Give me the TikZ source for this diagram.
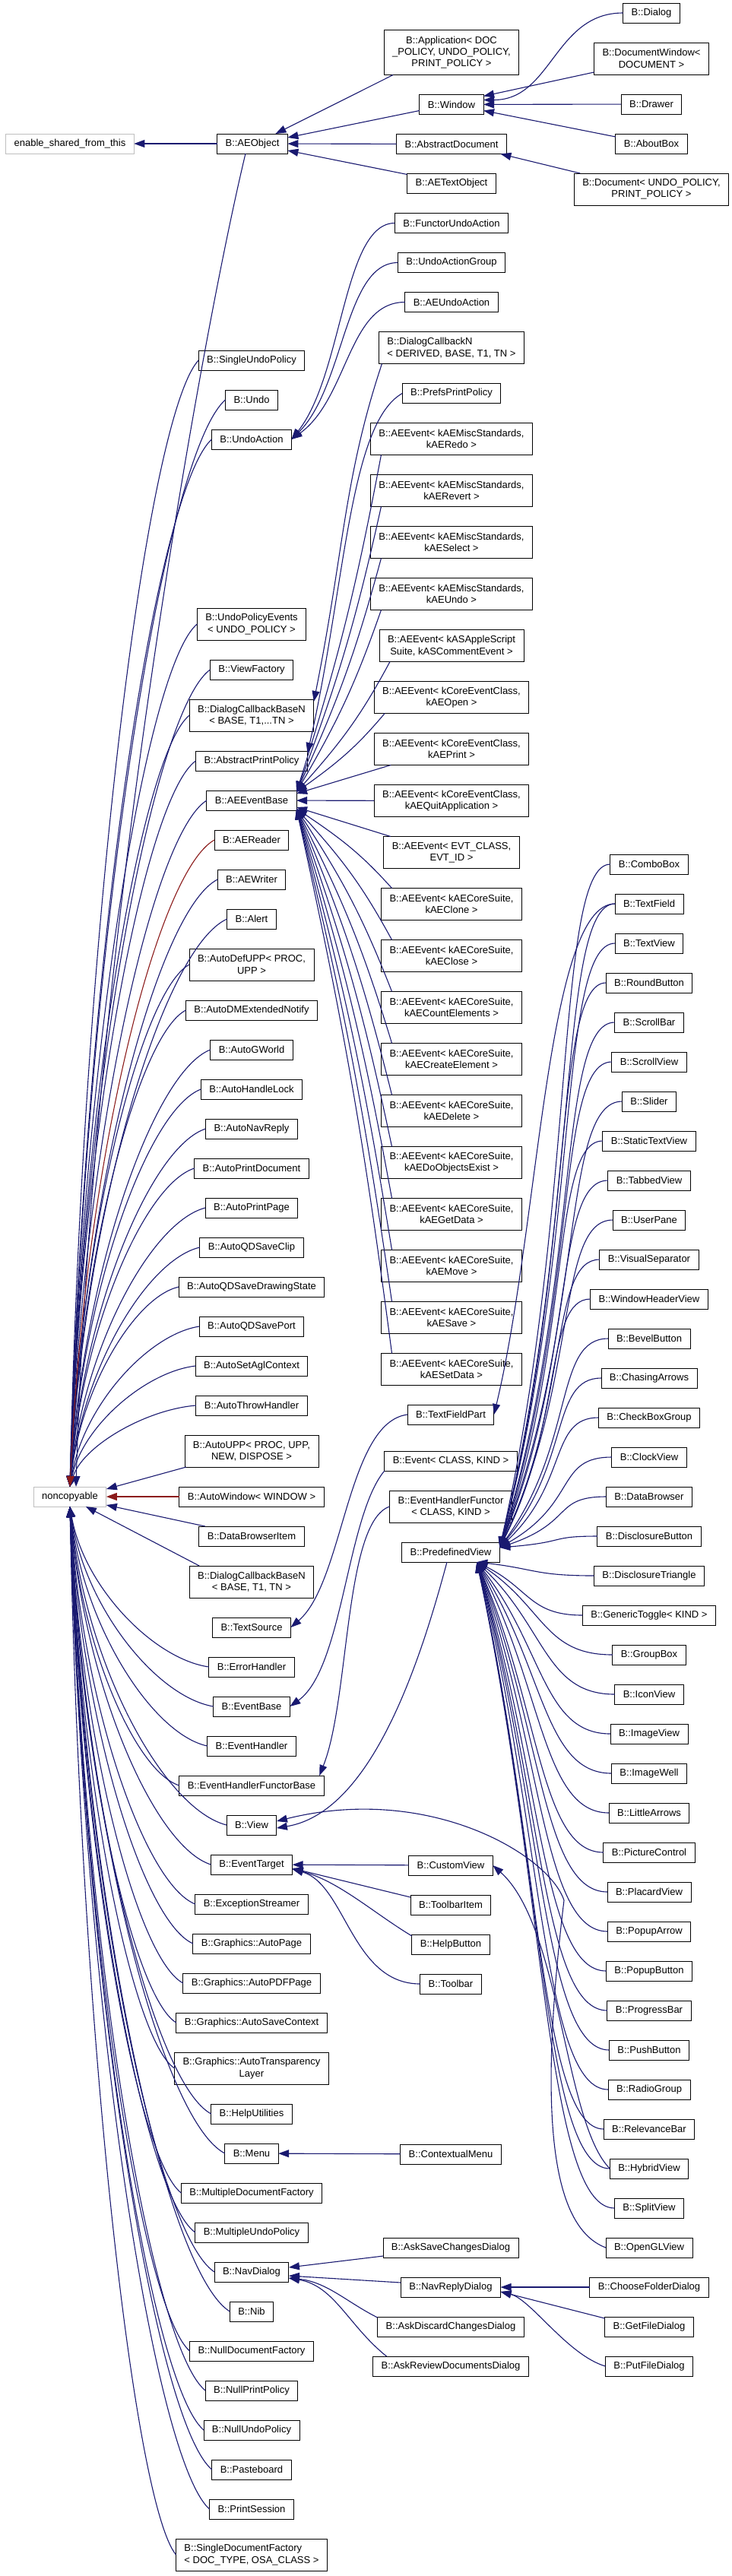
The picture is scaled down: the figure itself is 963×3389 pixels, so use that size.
\documentclass[tikz,border=0pt]{standalone}
\usepackage{fontspec}
\setmainfont{Liberation Sans}
\usetikzlibrary{arrows.meta, positioning, calc}
\definecolor{navy}{HTML}{191970}
\definecolor{privred}{HTML}{8B1A1A}
\definecolor{extgray}{HTML}{BFBFBF}

\begin{document}
\begin{tikzpicture}[
  x=1pt, y=1pt,
  cls/.style={rectangle, draw, line width=0.9pt, fill=white, minimum height=26pt,
    inner xsep=11pt, inner ysep=2pt, outer sep=0pt, align=center,
    font=\fontsize{13}{15.4}\selectfont},
  two/.style={cls, minimum height=42pt},
  three/.style={cls, minimum height=59pt},
  ext/.style={cls, draw=extgray},
  inh/.style={navy, line width=1.1pt, {Triangle[length=14pt, width=10pt]}-},
  prv/.style={inh, privred},
  % spline whose handles are fractions of the run and rise
  bz/.style n args={4}{to path={let \p1=(\tikztostart), \p2=(\tikztotarget) in
    .. controls ({\x1+#1*(\x2-\x1)},{\y1+#2*(\y2-(\y1))})
    and ({\x2-#3*(\x2-\x1)},{\y2-#4*(\y2-(\y1))}) .. (\tikztotarget)}},
  node distance=26pt
]
\useasboundingbox (0,0) rectangle (963,-3389);

% external bases
\node[ext] (esft) at (92,-189) {enable\_shared\_from\_this};
\node[ext] (nc) at (92,-1969) {noncopyable};
\node[cls] (aeo) at (332,-189) {B::AEObject};

% left column
\node[cls] (sup) at (331,-474) {B::SingleUndoPolicy};
\node[cls, below=of sup] (undo) {B::Undo};
\node[cls, below=of undo] (uact) {B::UndoAction};
\node[two] (upe) at (331,-821) {B::UndoPolicyEvents\\< UNDO\_POLICY >};
\node[cls, below=of upe] (vf) {B::ViewFactory};
\node[two, below=of vf] (dcbn) {B::DialogCallbackBaseN\\< BASE, T1,...TN >};
\node[cls, below=of dcbn] (aprp) {B::AbstractPrintPolicy};
\node[cls, below=of aprp] (aeeb) {B::AEEventBase};
\node[cls, below=of aeeb] (aerd) {B::AEReader};
\node[cls, below=of aerd] (aewr) {B::AEWriter};
\node[cls, below=of aewr] (alert) {B::Alert};
\node[two, below=of alert] (adefupp) {B::AutoDefUPP< PROC,\\UPP >};
\node[cls, below=of adefupp] (admen) {B::AutoDMExtendedNotify};
\node[cls, below=of admen] (agw) {B::AutoGWorld};
\node[cls, below=of agw] (ahl) {B::AutoHandleLock};
\node[cls, below=of ahl] (anr) {B::AutoNavReply};
\node[cls, below=of anr] (apd) {B::AutoPrintDocument};
\node[cls, below=of apd] (apg) {B::AutoPrintPage};
\node[cls, below=of apg] (aqdsc) {B::AutoQDSaveClip};
\node[cls, below=of aqdsc] (aqdsds) {B::AutoQDSaveDrawingState};
\node[cls, below=of aqdsds] (aqdsp) {B::AutoQDSavePort};
\node[cls, below=of aqdsp] (asac) {B::AutoSetAglContext};
\node[cls, below=of asac] (ath) {B::AutoThrowHandler};
\node[two, below=of ath] (aupp) {B::AutoUPP< PROC, UPP,\\NEW, DISPOSE >};
\node[cls, below=of aupp] (awin) {B::AutoWindow< WINDOW >};
\node[cls, below=of awin] (dbi) {B::DataBrowserItem};
\node[two, below=of dbi] (dcbn2) {B::DialogCallbackBaseN\\< BASE, T1, TN >};
\node[cls, below=of dcbn2] (tsrc) {B::TextSource};
\node[cls, below=of tsrc] (errh) {B::ErrorHandler};
\node[cls, below=of errh] (evb) {B::EventBase};
\node[cls, below=of evb] (evh) {B::EventHandler};
\node[cls, below=of evh] (ehfb) {B::EventHandlerFunctorBase};
\node[cls, below=of ehfb] (view) {B::View};
\node[cls, below=of view] (et) {B::EventTarget};
\node[cls, below=of et] (exs) {B::ExceptionStreamer};
\node[cls, below=of exs] (gap) {B::Graphics::AutoPage};
\node[cls, below=of gap] (gpdf) {B::Graphics::AutoPDFPage};
\node[cls, below=of gpdf] (gsc) {B::Graphics::AutoSaveContext};
\node[two, below=of gsc] (gtl) {B::Graphics::AutoTransparency\\Layer};
\node[cls, below=of gtl] (hutil) {B::HelpUtilities};
\node[cls, below=of hutil] (menu) {B::Menu};
\node[cls, below=of menu] (mdf) {B::MultipleDocumentFactory};
\node[cls, below=of mdf] (mup) {B::MultipleUndoPolicy};
\node[cls, below=of mup] (nd) {B::NavDialog};
\node[cls, below=of nd] (nib) {B::Nib};
\node[cls, below=of nib] (ndf) {B::NullDocumentFactory};
\node[cls, below=of ndf] (npp) {B::NullPrintPolicy};
\node[cls, below=of npp] (nup) {B::NullUndoPolicy};
\node[cls, below=of nup] (pboard) {B::Pasteboard};
\node[cls, below=of pboard] (psess) {B::PrintSession};
\node[two, align=left, below=of psess] (sdf) {B::SingleDocumentFactory\\< DOC\_TYPE, OSA\_CLASS >};

% middle column
\node[three] (appl) at (594,-69) {B::Application< DOC\\\_POLICY, UNDO\_POLICY,\\PRINT\_POLICY >};
\node[cls, below=of appl] (win) {B::Window};
\node[cls, below=of win] (adoc) {B::AbstractDocument};
\node[cls, below=of adoc] (aetxt) {B::AETextObject};
\node[cls, below=of aetxt] (fua) {B::FunctorUndoAction};
\node[cls, below=of fua] (uag) {B::UndoActionGroup};
\node[cls, below=of uag] (aeua) {B::AEUndoAction};
\node[two, align=left, below=of aeua] (dcn) {B::DialogCallbackN\\< DERIVED, BASE, T1, TN >};
\node[cls, below=of dcn] (ppp) {B::PrefsPrintPolicy};
\node[two, below=of ppp] (ev1) {B::AEEvent< kAEMiscStandards,\\kAERedo >};
\node[two, below=of ev1] (ev2) {B::AEEvent< kAEMiscStandards,\\kAERevert >};
\node[two, below=of ev2] (ev3) {B::AEEvent< kAEMiscStandards,\\kAESelect >};
\node[two, below=of ev3] (ev4) {B::AEEvent< kAEMiscStandards,\\kAEUndo >};
\node[two, below=of ev4] (evas) {B::AEEvent< kASAppleScript\\Suite, kASCommentEvent >};
\node[two, below=of evas] (evop) {B::AEEvent< kCoreEventClass,\\kAEOpen >};
\node[two, below=of evop] (evpr) {B::AEEvent< kCoreEventClass,\\kAEPrint >};
\node[two, below=of evpr] (evqa) {B::AEEvent< kCoreEventClass,\\kAEQuitApplication >};
\node[two, below=of evqa] (evid) {B::AEEvent< EVT\_CLASS,\\EVT\_ID >};
\node[two, below=of evid] (evcl) {B::AEEvent< kAECoreSuite,\\kAEClone >};
\node[two, below=of evcl] (evcs) {B::AEEvent< kAECoreSuite,\\kAEClose >};
\node[two, below=of evcs] (evce) {B::AEEvent< kAECoreSuite,\\kAECountElements >};
\node[two, below=of evce] (evcr) {B::AEEvent< kAECoreSuite,\\kAECreateElement >};
\node[two, below=of evcr] (evdl) {B::AEEvent< kAECoreSuite,\\kAEDelete >};
\node[two, below=of evdl] (evdo) {B::AEEvent< kAECoreSuite,\\kAEDoObjectsExist >};
\node[two, below=of evdo] (evgd) {B::AEEvent< kAECoreSuite,\\kAEGetData >};
\node[two, below=of evgd] (evmv) {B::AEEvent< kAECoreSuite,\\kAEMove >};
\node[two, below=of evmv] (evsv) {B::AEEvent< kAECoreSuite,\\kAESave >};
\node[two, below=of evsv] (evsd) {B::AEEvent< kAECoreSuite,\\kAESetData >};
\node[cls] (tfp) at (593,-1861) {B::TextFieldPart};
\node[cls] (evck) at (593,-1922) {B::Event< CLASS, KIND >};
\node[two, below=of evck] (ehf) {B::EventHandlerFunctor\\< CLASS, KIND >};
\node[cls, below=of ehf] (pv) {B::PredefinedView};
\node[cls] (cv) at (593,-2454) {B::CustomView};
\node[cls, below=of cv] (tbi) {B::ToolbarItem};
\node[cls, below=of tbi] (hbtn) {B::HelpButton};
\node[cls, below=of hbtn] (tbar) {B::Toolbar};
\node[cls] (cmenu) at (593,-2834) {B::ContextualMenu};
\node[cls] (ascd) at (593,-2957) {B::AskSaveChangesDialog};
\node[cls, below=of ascd] (nrd) {B::NavReplyDialog};
\node[cls, below=of nrd] (adcd) {B::AskDiscardChangesDialog};
\node[cls, below=of adcd] (ardd) {B::AskReviewDocumentsDialog};

% right column
\node[cls] (dlg) at (857,-17) {B::Dialog};
\node[two, below=of dlg] (dwin) {B::DocumentWindow<\\DOCUMENT >};
\node[cls, below=of dwin] (drw) {B::Drawer};
\node[cls, below=of drw] (abox) {B::AboutBox};
\node[two, below=of abox] (doc) {B::Document< UNDO\_POLICY,\\PRINT\_POLICY >};
\node[cls] (combo) at (854,-1137) {B::ComboBox};
\node[cls, below=of combo] (tfield) {B::TextField};
\node[cls, below=of tfield] (tview) {B::TextView};
\node[cls, below=of tview] (rbtn) {B::RoundButton};
\node[cls, below=of rbtn] (sbar) {B::ScrollBar};
\node[cls, below=of sbar] (sview) {B::ScrollView};
\node[cls, below=of sview] (slider) {B::Slider};
\node[cls, below=of slider] (stv) {B::StaticTextView};
\node[cls, below=of stv] (tabv) {B::TabbedView};
\node[cls, below=of tabv] (upane) {B::UserPane};
\node[cls, below=of upane] (vsep) {B::VisualSeparator};
\node[cls, below=of vsep] (whv) {B::WindowHeaderView};
\node[cls, below=of whv] (bevel) {B::BevelButton};
\node[cls, below=of bevel] (chase) {B::ChasingArrows};
\node[cls, below=of chase] (cbg) {B::CheckBoxGroup};
\node[cls, below=of cbg] (clock) {B::ClockView};
\node[cls, below=of clock] (dbrowser) {B::DataBrowser};
\node[cls, below=of dbrowser] (dbtn) {B::DisclosureButton};
\node[cls, below=of dbtn] (dtri) {B::DisclosureTriangle};
\node[cls, below=of dtri] (gtog) {B::GenericToggle< KIND >};
\node[cls, below=of gtog] (gbox) {B::GroupBox};
\node[cls, below=of gbox] (icon) {B::IconView};
\node[cls, below=of icon] (imgv) {B::ImageView};
\node[cls, below=of imgv] (imgw) {B::ImageWell};
\node[cls, below=of imgw] (larrows) {B::LittleArrows};
\node[cls, below=of larrows] (pctl) {B::PictureControl};
\node[cls, below=of pctl] (placard) {B::PlacardView};
\node[cls, below=of placard] (parrow) {B::PopupArrow};
\node[cls, below=of parrow] (pbtn) {B::PopupButton};
\node[cls, below=of pbtn] (pbar) {B::ProgressBar};
\node[cls, below=of pbar] (pushb) {B::PushButton};
\node[cls, below=of pushb] (radio) {B::RadioGroup};
\node[cls, below=of radio] (relev) {B::RelevanceBar};
\node[cls, below=of relev] (hybrid) {B::HybridView};
\node[cls, below=of hybrid] (split) {B::SplitView};
\node[cls, below=of split] (ogl) {B::OpenGLView};
\node[cls, below=of ogl] (cfd) {B::ChooseFolderDialog};
\node[cls, below=of cfd] (gfd) {B::GetFileDialog};
\node[cls, below=of gfd] (pfd) {B::PutFileDialog};

% top of the tree
\draw[inh] (esft) -- (aeo);
\draw[inh] ([xshift=-16pt]aeo.north east) -- ([xshift=12pt]appl.south west);
\draw[inh] ([yshift=8pt]aeo.east) -- ([yshift=-8pt]win.west);
\draw[inh] (aeo) -- (adoc);
\draw[inh] ([yshift=-9pt]aeo.east) -- ([yshift=-1pt]aetxt.north west);
\draw[inh] ([yshift=6pt]win.east) .. controls +(90,0) and +(-90,0) .. (dlg.west);
\draw[inh] ([yshift=-2pt]win.north east) -- ([yshift=3pt]dwin.south west);
\draw[inh] (win) -- (drw);
\draw[inh] ([yshift=-8pt]win.east) -- ([yshift=-4pt]abox.north west);
\draw[inh] ([xshift=-8pt]adoc.south east) -- ([xshift=8pt]doc.north west);

% noncopyable fan
\draw[inh] ([xshift=8pt]nc.north) .. controls +(20,700) and +(-60,-250) .. ([xshift=-9pt]aeo.south);
\foreach \nm in {sup,undo,uact,upe,vf,dcbn,aprp,aeeb,aewr,alert,adefupp,admen,agw,
    ahl,anr,apd,apg,aqdsc,aqdsds,aqdsp,asac,ath}
  \draw[inh, bz={0.1}{0.5}{0.4}{0.05}] (nc.north) to (\nm.west);
\draw[prv, bz={0.1}{0.5}{0.4}{0.05}] (nc.north) to (aerd.west);
\draw[inh] ([yshift=-3pt]nc.north east) -- ([xshift=2pt]aupp.south west);
\draw[prv] (nc) -- (awin);
\draw[inh] ([yshift=2pt]nc.south east) -- ([xshift=8pt]dbi.north west);
\draw[inh] ([xshift=-27pt]nc.south east) -- ([xshift=13pt]dcbn2.north west);
\foreach \nm in {errh,evb,evh,ehfb,view,et,exs,gap,gpdf,gsc,gtl,hutil,menu,mdf,mup,
    nd,nib,ndf,npp,nup,pboard,psess,sdf}
  \draw[inh, bz={0.1}{0.5}{0.4}{0.05}] (nc.south) to (\nm.west);

% undo and policy bases
\foreach \nm in {fua,uag,aeua}
  \draw[inh, bz={0.5}{0.3}{0.5}{0}] (uact.east) to (\nm.west);
\draw[inh] ([yshift=-3pt]dcbn.north east) .. controls +(40,200) and +(-50,-150) .. ([xshift=4pt]dcn.south west);
\draw[inh] ([yshift=-3pt]aprp.north east) .. controls +(50,220) and +(-70,-40) .. (ppp.west);

% AEEventBase fan
\foreach \nm in {ev1,ev2,ev3,ev4,evas,evop}
  \draw[inh, bz={0.5}{0.4}{0.3}{0.4}] ([yshift=-2pt]aeeb.north east) to ([xshift=14pt]\nm.south west);
\draw[inh] ([yshift=-4pt]aeeb.north east) -- ([xshift=22pt]evpr.south west);
\draw[inh] (aeeb) -- (evqa);
\draw[inh] ([yshift=4pt]aeeb.south east) -- ([xshift=9pt]evid.north west);
\foreach \nm in {evcl,evcs,evce,evcr,evdl,evdo,evgd,evmv,evsv,evsd}
  \draw[inh, bz={0.5}{0.4}{0.3}{0.4}] ([yshift=2pt]aeeb.south east) to ([xshift=14pt]\nm.north west);

% events and views
\draw[inh] (tsrc.east) .. controls +(70,60) and +(-80,-10) .. (tfp.west);
\draw[inh] (evb.east) .. controls +(70,50) and +(-50,-60) .. (evck.south west);
\draw[inh] ([xshift=-6pt]ehfb.north east) .. controls +(40,100) and +(-60,-20) .. (ehf.west);
\draw[inh] ([yshift=-4pt]view.east) .. controls +(120,20) and +(-40,-150) .. ([xshift=-5pt]pv.south);
\draw[inh] ([yshift=5pt]view.east) .. controls +(200,50) and +(-20,60) .. (742,-2500)
  .. controls +(-30,-250) and +(-80,30) .. (ogl.west);
\draw[inh] (tfp.east) .. controls +(60,250) and +(-90,0) .. (tfield.west);
\foreach \nm in {combo,tfield,tview,rbtn,sbar,sview,slider,stv,tabv,upane,vsep,whv,
    bevel,chase,cbg,clock,dbrowser,dbtn}
  \draw[inh, bz={0.7}{0.5}{0.5}{0}] ([yshift=6pt]pv.east) to (\nm.west);
\foreach \nm in {dtri,gtog,gbox,icon,imgv,imgw,larrows,pctl,placard,parrow,pbtn,pbar,
    pushb,radio,relev,hybrid,split}
  \draw[inh, bz={0.5}{0.5}{0.5}{0}] ([xshift=-30pt]pv.south east) to (\nm.west);
\draw[inh] (cv.east) .. controls +(90,-80) and +(-60,60) .. (hybrid.west);

% event targets
\draw[inh] (et) -- (cv);
\draw[inh] ([yshift=-5pt]et.east) -- ([yshift=-3pt]tbi.north west);
\draw[inh] ([yshift=-6pt]et.east) .. controls +(60,-15) and +(-50,30) .. ([yshift=-2pt]hbtn.north west);
\draw[inh] ([yshift=-6pt]et.east) .. controls +(70,-20) and +(-90,0) .. (tbar.west);
\draw[inh] (menu) -- (cmenu);

% nav dialogs
\draw[inh] ([yshift=6pt]nd.east) -- ([yshift=2pt]ascd.south west);
\draw[inh] ([yshift=-5pt]nd.east) -- ([yshift=6pt]nrd.west);
\draw[inh] ([yshift=-8pt]nd.east) .. controls +(50,-5) and +(-40,20) .. ([yshift=-1pt]adcd.north west);
\draw[inh] ([yshift=-8pt]nd.east) .. controls +(60,-10) and +(-50,40) .. ([xshift=18pt]ardd.north west);
\draw[inh] (nrd) -- (cfd);
\draw[inh] ([yshift=-6pt]nrd.east) -- ([yshift=-2pt]gfd.north west);
\draw[inh] ([yshift=-6pt]nrd.east) .. controls +(40,-10) and +(-50,15) .. (pfd.west);
\end{tikzpicture}
\end{document}
